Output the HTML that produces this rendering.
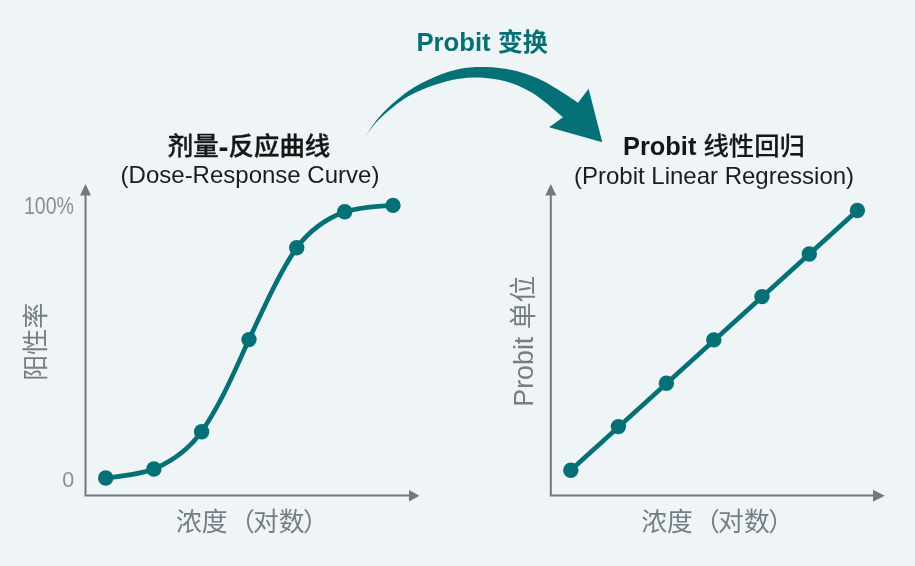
<!DOCTYPE html>
<html lang="zh-CN">
<head>
<meta charset="utf-8">
<title>Probit 变换</title>
<style>
html,body{margin:0;padding:0;background:#eff4f7;}
body{width:915px;height:566px;overflow:hidden;}
svg{display:block;}
#art{filter:blur(0.45px);}
text{font-family:"Liberation Sans","Noto Sans CJK SC",sans-serif;}
.t{fill:#161616;font-weight:700;}
.tc{font-weight:500;stroke:#161616;stroke-width:0.4px;}
.tc2{font-weight:500;stroke:#161616;stroke-width:0.15px;}
.s{fill:#1c1c1c;font-weight:400;}
.g{fill:#757d85;font-weight:400;}
.gl{fill:#878e95;font-weight:400;}
.teal{fill:#057176;}
</style>
</head>
<body>
<svg width="915" height="566" viewBox="0 0 915 566">
  <rect width="915" height="566" fill="#eff4f7"/>
  <g id="art">

  <!-- top label -->
  <text id="toplabel" x="482.2" y="51" text-anchor="middle" font-size="25.7" font-weight="700" fill="#057176">Probit <tspan font-size="25.1">变换</tspan></text>

  <!-- swoosh arrow -->
  <path id="swoosh" class="teal" d="M364.3,137.6 C367.2,133.7 374.2,122.1 381.5,114.4 C388.8,106.7 399.2,97.4 408.0,91.2 C416.8,85.0 425.9,80.7 434.5,77.0 C443.1,73.3 450.8,70.6 459.3,68.9 C467.8,67.2 476.9,66.9 485.6,67.1 C494.4,67.3 503.2,68.3 511.8,70.1 C520.4,71.9 529.2,74.7 537.0,78.0 C544.8,81.3 551.5,85.7 558.3,89.8 C565.1,93.9 574.7,100.6 578.0,102.8 L588.6,88.8 L602.3,142.3 L549.1,127.2 L562.9,117.3 C558.6,113.8 545.5,101.7 537.0,96.0 C528.5,90.3 520.4,86.2 511.8,83.2 C503.2,80.2 494.4,78.8 485.6,78.0 C476.9,77.2 467.8,77.5 459.3,78.7 C450.8,79.9 443.1,82.0 434.5,85.0 C425.9,88.0 416.8,91.2 408.0,96.5 C399.2,101.8 388.8,110.2 381.5,117.1 C374.2,123.9 367.2,134.2 364.3,137.6 Z"/>

  <!-- left titles -->
  <text id="lt" class="t" x="249" y="155.3" text-anchor="middle" font-size="25.4"><tspan class="tc">剂量</tspan><tspan font-size="30" dy="1.8">-</tspan><tspan class="tc" dy="-1.8">反应曲线</tspan></text>
  <text id="ls" class="s" font-size="24" x="250" y="183" text-anchor="middle">(Dose-Response Curve)</text>

  <!-- right titles -->
  <text id="rt" class="t" x="714" y="155.3" text-anchor="middle" font-size="25.4">Probit <tspan class="tc2">线性回归</tspan></text>
  <text id="rs" class="s" font-size="24" x="714" y="184" text-anchor="middle">(Probit Linear Regression)</text>

  <!-- left axes -->
  <g stroke="#707983" stroke-width="2" fill="none">
    <path d="M85.5,194 V495.5 H410"/>
    <path d="M550.8,194 V495.5 H874"/>
  </g>
  <g fill="#707983">
    <path d="M85.5,184 L91,195.5 H80 Z"/>
    <path d="M419.5,495.7 L409,501.5 V490 Z"/>
    <path d="M550.8,184 L556.3,195.5 H545.3 Z"/>
    <path d="M884.7,495.7 L873,501.7 V489.7 Z"/>
  </g>

  <!-- left labels -->
  <text id="l100" class="gl" x="24" y="213.8" font-size="23" textLength="50" lengthAdjust="spacingAndGlyphs">100%</text>
  <text id="l0" class="gl" x="74.3" y="486.5" text-anchor="end" font-size="21.5">0</text>
  <text id="lyl" class="g" font-size="26" text-anchor="middle" transform="translate(45.2,341.8) rotate(-90)">阳性率</text>
  <text id="lxl" class="g" font-size="25.8" x="176" y="530.5">浓度<tspan dx="1.3">（</tspan><tspan dx="-1.8">对数</tspan><tspan dx="-1.5">）</tspan></text>

  <!-- right labels -->
  <text id="ryl" class="g" font-size="26.8" text-anchor="middle" transform="translate(533.3,341.2) rotate(-90)">Probit 单位</text>
  <text id="rxl" class="g" font-size="25.8" x="641.2" y="530.5">浓度<tspan dx="1.3">（</tspan><tspan dx="-1.8">对数</tspan><tspan dx="-1.5">）</tspan></text>

  <!-- left curve -->
  <path d="M105.7,478 C125,476 140,474 153.9,469 C175,460 190,448 201.6,431.6 C222,402 235,370 249,339.6 C265,305 280,272 296.7,247.7 C310,230 328,218 344.7,211.8 C360,207.5 378,206 393,205.4" fill="none" stroke="#057176" stroke-width="4.7" stroke-linecap="round"/>
  <g class="teal">
    <circle cx="105.7" cy="478" r="7.7"/>
    <circle cx="153.9" cy="469" r="7.7"/>
    <circle cx="201.6" cy="431.7" r="7.7"/>
    <circle cx="249" cy="339.6" r="7.7"/>
    <circle cx="296.7" cy="247.7" r="7.7"/>
    <circle cx="344.7" cy="211.8" r="7.7"/>
    <circle cx="393" cy="205.4" r="7.7"/>
  </g>

  <!-- right line -->
  <path d="M570.8,470.2 L857.4,210.5" fill="none" stroke="#057176" stroke-width="4.7" stroke-linecap="round"/>
  <g class="teal">
    <circle cx="570.8" cy="470.2" r="7.7"/>
    <circle cx="618.4" cy="426.6" r="7.7"/>
    <circle cx="666.4" cy="383.3" r="7.7"/>
    <circle cx="713.8" cy="339.9" r="7.7"/>
    <circle cx="762" cy="296.6" r="7.7"/>
    <circle cx="809.3" cy="254" r="7.7"/>
    <circle cx="857.4" cy="210.5" r="7.7"/>
  </g>
  </g>
</svg>
</body>
</html>
